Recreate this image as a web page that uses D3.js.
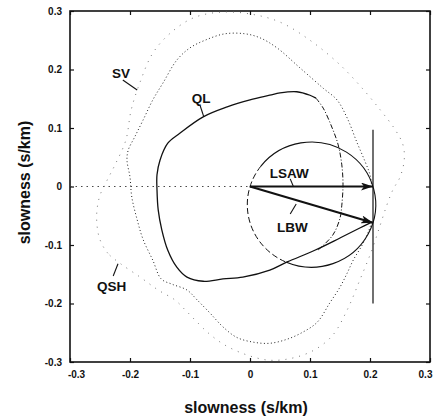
<!DOCTYPE html>
<html>
<head>
<meta charset="utf-8">
<script src="https://cdn.jsdelivr.net/npm/d3@7"></script>
<style>
  body { margin: 0; background: #fff; }
  text { font-family: "Liberation Sans", Arial, Helvetica, sans-serif; font-weight: bold; fill: #111; }
  .axis path { display: none; }
  .axis line { stroke: #111; stroke-width: 1.2; }
</style>
</head>
<body>
<svg id="svg_slowness" width="433" height="417"></svg>
<script>
// slowness curves, [px, pz] in s/km
var ql_solid = [[0.110, 0.151], [0.100, 0.156], [0.078, 0.162], [0.050, 0.160], [0.033, 0.156], [0.000, 0.148],
  [-0.038, 0.136], [-0.078, 0.119], [-0.117, 0.091], [-0.137, 0.074], [-0.150, 0.045], [-0.155, 0.020],
  [-0.155, -0.006], [-0.153, -0.040], [-0.147, -0.074], [-0.137, -0.109], [-0.122, -0.138], [-0.105, -0.155],
  [-0.078, -0.162], [-0.045, -0.158], [-0.012, -0.155], [0.033, -0.143], [0.062, -0.129], [0.108, -0.109],
  [0.150, -0.088], [0.183, -0.071], [0.203, -0.061]];
var ql_dashed = [[0.110, 0.151], [0.122, 0.134], [0.137, 0.100], [0.147, 0.071], [0.153, 0.037], [0.155, 0.003],
  [0.153, -0.032], [0.150, -0.054], [0.138, -0.083], [0.113, -0.109]];
var sv = [[0.203, -0.001], [0.200, 0.020], [0.192, 0.042], [0.178, 0.076], [0.162, 0.117], [0.145, 0.148],
  [0.122, 0.168], [0.083, 0.203], [0.045, 0.237], [0.017, 0.254], [-0.008, 0.261], [-0.042, 0.261],
  [-0.075, 0.250], [-0.100, 0.237], [-0.122, 0.216], [-0.145, 0.177], [-0.162, 0.148], [-0.178, 0.114],
  [-0.192, 0.085], [-0.203, 0.062], [-0.205, 0.045], [-0.200, 0.016], [-0.197, -0.018], [-0.188, -0.057],
  [-0.178, -0.091], [-0.162, -0.126], [-0.148, -0.158], [-0.130, -0.167], [-0.105, -0.177], [-0.088, -0.194],
  [-0.067, -0.216], [-0.045, -0.240], [-0.022, -0.258], [0.005, -0.266], [0.033, -0.268], [0.062, -0.261],
  [0.088, -0.249], [0.112, -0.232], [0.133, -0.199], [0.150, -0.172], [0.162, -0.148], [0.172, -0.126],
  [0.187, -0.100], [0.197, -0.078], [0.203, -0.061]];
var qsh = [[-0.217, -0.131], [-0.237, -0.114], [-0.250, -0.091], [-0.255, -0.066], [-0.255, -0.040],
  [-0.250, -0.015], [-0.238, 0.011], [-0.225, 0.037], [-0.207, 0.079], [-0.198, 0.131], [-0.183, 0.179],
  [-0.162, 0.228], [-0.133, 0.262], [-0.095, 0.288], [-0.050, 0.298], [0.000, 0.295], [0.050, 0.281],
  [0.100, 0.250], [0.150, 0.208], [0.187, 0.168], [0.217, 0.131], [0.242, 0.097], [0.255, 0.071],
  [0.257, 0.045], [0.250, 0.016], [0.238, -0.006], [0.228, -0.032], [0.217, -0.066], [0.203, -0.109],
  [0.183, -0.160], [0.162, -0.211], [0.138, -0.254], [0.108, -0.279], [0.072, -0.293], [0.033, -0.297],
  [-0.005, -0.288], [-0.042, -0.271], [-0.070, -0.250], [-0.088, -0.232], [-0.108, -0.211], [-0.125, -0.194],
  [-0.153, -0.177], [-0.183, -0.155]];

// wave vectors (origin -> tip) and the circle drawn on the LBW vector as diameter
var lsaw_tip = [0.205, 0];
var lbw_tip = [0.205, -0.062];
var circle_center = [0.1025, -0.031];
var circle_radius = 0.107;
var line_x = 0.205, line_y = [0.097, -0.2];

var ticks = [-0.3, -0.2, -0.1, 0, 0.1, 0.2, 0.3];
var tick_labels = ["-0.3", "-0.2", "-0.1", "0", "0.1", "0.2", "0.3"];

// labels: [text, x, y] and leaders [[x0,y0],[x1,y1]]
var labels = [["SV", -0.230, 0.185], ["QL", -0.097, 0.143], ["LSAW", 0.033, 0.015], ["LBW", 0.045, -0.078], ["QSH", -0.255, -0.179]];
var leaders = [[[-0.212, 0.182], [-0.188, 0.165]], [[-0.083, 0.138], [-0.077, 0.119]], [[0.067, 0.013], [0.072, 0.001]],
  [[0.067, -0.047], [0.077, -0.030]], [[-0.228, -0.153], [-0.220, -0.132]]];

var svg = d3.select("#svg_slowness"),
    margin = {top: 11, right: 3, bottom: 55, left: 70},
    width = +svg.attr("width") - margin.left - margin.right,
    height = +svg.attr("height") - margin.top - margin.bottom,
    g = svg.append("g").attr("transform", "translate(" + margin.left + "," + margin.top + ")");

var x = d3.scaleLinear().domain([-0.3, 0.3]).range([0, width]);
var y = d3.scaleLinear().domain([-0.3, 0.3]).range([height, 0]);

var openLine = d3.line()
    .x(function(d) { return x(d[0]); })
    .y(function(d) { return y(d[1]); })
    .curve(d3.curveCatmullRom);
var closedLine = d3.line()
    .x(function(d) { return x(d[0]); })
    .y(function(d) { return y(d[1]); })
    .curve(d3.curveCatmullRomClosed);

// axes, ticks inward on all sides
var fmt = function(d) { return tick_labels[ticks.indexOf(d)]; };
g.append("g")
    .attr("class", "axis axis--y")
    .call(d3.axisLeft(y).tickValues(ticks).tickSize(-4).tickPadding(8).tickFormat(fmt))
    .selectAll("text").style("font-size", "10px");
g.append("g")
    .attr("class", "axis axis--x")
    .attr("transform", "translate(0," + height + ")")
    .call(d3.axisBottom(x).tickValues(ticks).tickSize(-4).tickPadding(9).tickFormat(fmt))
    .selectAll("text").style("font-size", "10px")
      .attr("dx", function(d) { return d == -0.3 ? 6 : (d == 0.3 ? -5 : 0); });
g.append("g")
    .attr("class", "axis")
    .call(d3.axisTop(x).tickValues(ticks).tickSize(-4).tickFormat(""));
g.append("g")
    .attr("class", "axis")
    .attr("transform", "translate(" + width + ",0)")
    .call(d3.axisRight(y).tickValues(ticks).tickSize(-4).tickFormat(""));

g.append("rect")
    .attr("width", width)
    .attr("height", height)
    .attr("fill", "none")
    .attr("stroke", "#111")
    .attr("stroke-width", 1.6);

// zero line
g.append("line")
    .attr("x1", x(-0.3)).attr("x2", x(0))
    .attr("y1", y(0)).attr("y2", y(0))
    .attr("stroke", "#333").attr("stroke-width", 0.9).attr("stroke-dasharray", "1.5,4");

// dotted curves
g.append("path")
    .attr("d", closedLine(qsh))
    .attr("fill", "none").attr("stroke", "#666").attr("stroke-width", 0.9).attr("stroke-dasharray", "1,6");
g.append("path")
    .attr("d", openLine(sv))
    .attr("fill", "none").attr("stroke", "#222").attr("stroke-width", 1).attr("stroke-dasharray", "1,2.5");

// QL
g.append("path")
    .attr("d", openLine(ql_solid))
    .attr("fill", "none").attr("stroke", "#111").attr("stroke-width", 1.3);
g.append("path")
    .attr("d", openLine(ql_dashed))
    .attr("fill", "none").attr("stroke", "#111").attr("stroke-width", 1).attr("stroke-dasharray", "5,2,1,2");

// circle on the LBW vector: dashed on the left, solid elsewhere
function arcPath(a0, a1) {
  var rx = x(circle_radius) - x(0), ry = y(0) - y(circle_radius);
  var p0 = [x(circle_center[0]) + rx * Math.cos(a0), y(circle_center[1]) - ry * Math.sin(a0)];
  var p1 = [x(circle_center[0]) + rx * Math.cos(a1), y(circle_center[1]) - ry * Math.sin(a1)];
  var large = (a1 - a0) > Math.PI ? 1 : 0;
  return "M" + p0 + "A" + rx + "," + ry + " 0 " + large + ",0 " + p1;
}
var rad = Math.PI / 180;
g.append("path")
    .attr("d", arcPath(-113 * rad, 142 * rad))
    .attr("fill", "none").attr("stroke", "#111").attr("stroke-width", 1.1);
g.append("path")
    .attr("d", arcPath(142 * rad, 247 * rad))
    .attr("fill", "none").attr("stroke", "#111").attr("stroke-width", 1).attr("stroke-dasharray", "6,3");

// vertical projection line
g.append("line")
    .attr("x1", x(line_x)).attr("x2", x(line_x))
    .attr("y1", y(line_y[0])).attr("y2", y(line_y[1]))
    .attr("stroke", "#111").attr("stroke-width", 1.2);

// arrows
svg.append("defs").append("marker")
    .attr("id", "head")
    .attr("viewBox", "0 0 12 8")
    .attr("refX", 12).attr("refY", 4)
    .attr("markerWidth", 12).attr("markerHeight", 8)
    .attr("markerUnits", "userSpaceOnUse")
    .attr("orient", "auto")
  .append("path")
    .attr("d", "M0,0L12,4L0,8L3,4Z")
    .attr("fill", "#111");
g.selectAll(".vec")
    .data([lsaw_tip, lbw_tip])
    .enter().append("line")
      .attr("class", "vec")
      .attr("x1", x(0)).attr("y1", y(0))
      .attr("x2", function(d) { return x(d[0]); })
      .attr("y2", function(d) { return y(d[1]); })
      .attr("stroke", "#111").attr("stroke-width", 2.2)
      .attr("marker-end", "url(#head)");

// labels
g.selectAll(".leader")
    .data(leaders)
    .enter().append("line")
      .attr("class", "leader")
      .attr("x1", function(d) { return x(d[0][0]); })
      .attr("y1", function(d) { return y(d[0][1]); })
      .attr("x2", function(d) { return x(d[1][0]); })
      .attr("y2", function(d) { return y(d[1][1]); })
      .attr("stroke", "#111").attr("stroke-width", 1.1);
g.selectAll(".label")
    .data(labels)
    .enter().append("text")
      .attr("class", "label")
      .attr("x", function(d) { return x(d[1]); })
      .attr("y", function(d) { return y(d[2]); })
      .style("font-size", "13.5px")
      .text(function(d) { return d[0]; });

// axis titles
svg.append("text")
    .attr("x", margin.left + width / 2 - 4)
    .attr("y", 413)
    .attr("text-anchor", "middle")
    .style("font-size", "16px")
    .text("slowness (s/km)");
svg.append("text")
    .attr("transform", "translate(30," + (margin.top + y(0) - 4) + ") rotate(-90)")
    .attr("text-anchor", "middle")
    .style("font-size", "16px")
    .text("slowness (s/km)");
</script>
</body>
</html>
